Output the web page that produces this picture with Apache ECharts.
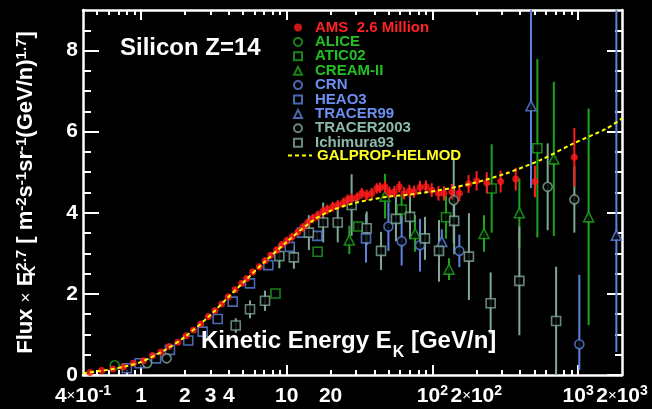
<!DOCTYPE html>
<html>
<head>
<meta charset="utf-8">
<script src="https://cdn.jsdelivr.net/npm/echarts@6/dist/echarts.min.js"></script>
<style>
  html, body { margin: 0; padding: 0; background: #000; }
  #chart { width: 652px; height: 409px; }
</style>
</head>
<body>
<div id="chart"></div>
<script>
// Silicon flux x E^2.7 versus kinetic energy per nucleon (GeV/n)

// ---- AMS ----
const amsE = [0.447, 0.537, 0.64, 0.757, 0.885, 1.04, 1.20, 1.37, 1.56, 1.79, 2.04, 2.29, 2.57, 2.90, 3.22,
  3.58, 3.97, 4.42, 4.91, 5.31, 5.84, 6.49, 7.10, 7.76, 8.53, 9.24, 10.0, 10.9, 11.9, 12.9, 13.9, 15.1,
  16.3, 17.7, 19.0, 20.7, 22.4, 24.5, 26.2, 27.9, 30.5, 32.7, 35.4, 38.3, 41.5, 43.7, 47.3, 50.6, 54.8,
  59.3, 63.9, 69.5, 74.8, 82.2, 90.4, 98.9, 110, 120, 136, 153, 177, 201, 236, 294, 373, 506, 942];
const amsY = [0.06, 0.11, 0.15, 0.20, 0.29, 0.35, 0.48, 0.57, 0.70, 0.81, 0.97, 1.11, 1.26, 1.44, 1.59,
  1.75, 1.93, 2.10, 2.26, 2.38, 2.54, 2.67, 2.82, 2.95, 3.08, 3.21, 3.31, 3.41, 3.52, 3.64, 3.75, 3.86,
  3.93, 4.03, 4.08, 4.15, 4.19, 4.25, 4.33, 4.36, 4.38, 4.48, 4.44, 4.48, 4.60, 4.62, 4.64, 4.50, 4.52,
  4.64, 4.48, 4.54, 4.52, 4.63, 4.64, 4.56, 4.48, 4.48, 4.52, 4.48, 4.71, 4.79, 4.74, 4.77, 4.83, 4.77, 5.37];
const amsErr = [0.02, 0.02, 0.02, 0.02, 0.02, 0.02, 0.03, 0.03, 0.03, 0.03, 0.03, 0.04, 0.04, 0.04, 0.05,
  0.05, 0.05, 0.06, 0.06, 0.06, 0.07, 0.07, 0.08, 0.08, 0.09, 0.09, 0.10, 0.10, 0.10, 0.11, 0.11, 0.11,
  0.12, 0.12, 0.12, 0.12, 0.12, 0.12, 0.12, 0.12, 0.12, 0.13, 0.13, 0.13, 0.13, 0.13, 0.14, 0.14, 0.14,
  0.14, 0.15, 0.15, 0.15, 0.16, 0.16, 0.17, 0.18, 0.18, 0.19, 0.20, 0.22, 0.24, 0.26, 0.27, 0.28, 0.39, 0.72];

// ---- ALICE ----
const aliceE = [0.66];
const aliceY = [0.24];
const aliceErr = [0];

// ---- ATIC02 ----
const atic02E = [8.38, 16.3, 31.0, 61.5, 124, 255, 525];
const atic02Y = [2.01, 3.04, 3.66, 4.08, 3.89, 4.60, 5.59];
const atic02Err = [0, 0, 0.1, 0.33, 0.53, 1.09, 2.2];

// ---- CREAM-II ----
const creamE = [26.9, 47.3, 76.0, 130, 226, 395, 681, 1180];
const creamY = [3.33, 4.41, 3.49, 2.61, 3.49, 4.00, 5.33, 3.90];
const creamErr = [0.35, 0.55, 0.45, 0.27, 0.45, 0.85, 1.9, 2.67];

// ---- CRN ----
const crnE = [49.9, 61.5, 82.2, 153, 1019];
const crnY = [3.66, 3.30, 3.20, 3.06, 0.76];
const crnErrLo = [0.6, 0.6, 0.65, 0.4, 0.64];
const crnErrHi = [0.6, 0.6, 0.65, 0.4, 1.71];

// ---- HEAO3 ----
const heao3E = [0.80, 0.98, 1.27, 1.58, 2.11, 2.65, 3.36, 4.26, 5.60, 7.48, 10.5, 12.7, 16.2, 35.0];
const heao3Y = [0.165, 0.29, 0.41, 0.62, 0.85, 1.07, 1.38, 1.81, 2.26, 2.71, 3.16, 3.51, 3.43, 3.37];
const heao3Err = [0, 0, 0, 0, 0, 0, 0, 0, 0, 0, 0, 0, 0.1, 0.6];

// ---- TRACER99 ----
const tracer99E = [116, 475, 1830];
const tracer99Y = [3.29, 6.64, 3.45];
const tracer99ErrLo = [0.3, 2.03, 2.88];
const tracer99ErrHi = [0.3, 2.6, 5.6];

// ---- TRACER2003 ----
const tracer03E = [1.10, 1.50, 140, 618, 942];
const tracer03Y = [0.29, 0.41, 4.31, 4.64, 4.33];
const tracer03Err = [0, 0, 1.05, 1.07, 0.82];

// ---- Ichimura93 ----
const ichimuraE = [4.47, 5.60, 7.10, 8.90, 11.2, 14.2, 17.8, 22.4, 27.9, 35.4, 44.4, 56.2, 70.2, 88.9,
  111, 141, 178, 251, 395, 706];
const ichimuraY = [1.22, 1.62, 1.83, 2.93, 2.90, 3.51, 3.76, 3.76, 4.19, 3.62, 3.06, 3.85, 3.90, 3.37,
  3.06, 3.80, 2.92, 1.77, 2.32, 1.33];
const ichimuraErr = [0.18, 0.22, 0.25, 0.3, 0.28, 0.43, 0.49, 0.49, 0.76, 0.41, 0.47, 0.55, 0.55, 0.53,
  0.76, 0.82, 1.07, 0.76, 1.34, 1.34];

// ---- GALPROP-HELMOD model ----
const modelE = [0.4, 0.5, 0.6, 0.8, 1, 1.5, 2, 3, 4, 5, 7, 10, 15, 20, 30, 50, 70, 113, 190, 320, 550, 930, 1570, 2000];
const modelY = [0.04, 0.09, 0.13, 0.22, 0.32, 0.64, 0.94, 1.48, 1.93, 2.27, 2.78, 3.28, 3.80, 4.05, 4.25,
  4.40, 4.45, 4.56, 4.73, 4.97, 5.30, 5.71, 6.08, 6.33];

// ---- axis ticks ----
const xTickEnergies = [0.4, 1, 2, 3, 4, 10, 20, 100, 200, 1000, 2000];
const xTickTexts = ['4×10^-1', '1', '2', '3', '4', '10', '20', '10^2', '2×10^2', '10^3', '2×10^3'];
const xMajorTicks = [1, 10, 100, 1000];
const xMinorTicks = [0.5, 0.6, 0.7, 0.8, 0.9, 2, 3, 4, 5, 6, 7, 8, 9, 20, 30, 40, 50, 60, 70, 80, 90,
  200, 300, 400, 500, 600, 700, 800, 900];
const yLabelValues = [0, 2, 4, 6, 8];
const yMinorTicks = [0.5, 1, 1.5, 2.5, 3, 3.5, 4.5, 5, 5.5, 6.5, 7, 7.5, 8.5];

const X_MIN = 0.4, X_MAX = 2000, Y_MIN = 0, Y_MAX = 9;

const RED = '#ff1c1c';
const GREEN = '#1ea41e';
const BLUE = '#5d82de';
const GREY = '#7fa898';
const YELLOW = '#ffff00';
const FONT = 'Liberation Sans, Arial, sans-serif';

const SQUARE_ICON = 'path://M0,0L10,0L10,10L0,10Z';
const TRIANGLE_ICON = 'path://M5,0L10,10L0,10Z';

const lg = v => Math.log10(v);

function richTick(t) {
  const [base, exp] = t.split('^');
  const parts = base.split('×');
  let out = parts.length === 2
    ? '{n|' + parts[0] + '}{t|×}{n|' + parts[1] + '}'
    : '{n|' + base + '}';
  if (exp) out += '{s|' + exp + '}';
  return out;
}

const xTickLogs = xTickEnergies.map(lg);
function xLabelFormatter(v) {
  let best = 0;
  xTickLogs.forEach((l, i) => { if (Math.abs(l - v) < Math.abs(xTickLogs[best] - v)) best = i; });
  return richTick(xTickTexts[best]);
}

const tickRich = {
  n: { fontFamily: FONT, fontSize: 21, fontWeight: 'bold', color: '#fff', lineHeight: 24 },
  t: { fontFamily: FONT, fontSize: 15, color: '#fff', lineHeight: 24 },
  s: { fontFamily: FONT, fontSize: 14, fontWeight: 'bold', color: '#fff', lineHeight: 14, verticalAlign: 'top' }
};

// helper axes carry only tick marks / labels, sitting on the same grid edges
function helperX(position, ticks, len, labels, line) {
  return {
    type: 'value', position, min: lg(X_MIN), max: lg(X_MAX),
    axisLine: { show: !!line, onZero: false, lineStyle: { color: '#fff', width: 2.5 } },
    axisTick: { show: true, inside: true, length: len, customValues: ticks.map(lg),
      lineStyle: { color: '#fff', width: 2 } },
    axisLabel: labels ? {
      show: true, customValues: xTickLogs, formatter: xLabelFormatter, margin: 9, rich: tickRich,
      hideOverlap: false
    } : { show: false },
    splitLine: { show: false }
  };
}
function helperY(position, ticks, len, line) {
  return {
    type: 'value', position, min: Y_MIN, max: Y_MAX,
    axisLine: { show: !!line, onZero: false, lineStyle: { color: '#fff', width: 2.5 } },
    axisTick: { show: true, inside: true, length: len, customValues: ticks,
      lineStyle: { color: '#fff', width: 2 } },
    axisLabel: { show: false },
    splitLine: { show: false }
  };
}

const AMS_NAME = 'AMS  2.6 Million';
const MODEL_NAME = 'GALPROP-HELMOD';

function markerSeries(name, color, symbol, size, E, Y, filled) {
  return {
    type: 'scatter', name, xAxisIndex: 0, yAxisIndex: 0,
    symbol, symbolSize: size, z: filled ? 6 : 4,
    itemStyle: filled ? { color } : { color: '#000', borderColor: color, borderWidth: 1.6 },
    data: E.map((e, i) => [e, Y[i]]),
    silent: true
  };
}
function errorSeries(name, color, width, E, Y, lo, hi) {
  return {
    type: 'custom', name, xAxisIndex: 0, yAxisIndex: 0, clip: true, silent: true,
    z: name === AMS_NAME ? 5 : 3,
    data: E.map((e, i) => [e, Y[i] - lo[i], Y[i] + hi[i]]).filter(d => d[2] - d[1] > 0),
    encode: { x: 0, y: [1, 2] },
    renderItem(params, api) {
      const a = api.coord([api.value(0), api.value(1)]);
      const b = api.coord([api.value(0), api.value(2)]);
      return { type: 'line', shape: { x1: a[0], y1: a[1], x2: b[0], y2: b[1] },
        style: { stroke: color, lineWidth: width } };
    }
  };
}

const experiments = [
  { name: 'ALICE', color: GREEN, symbol: 'circle', E: aliceE, Y: aliceY, lo: aliceErr, hi: aliceErr, text: '#22c022' },
  { name: 'ATIC02', color: GREEN, symbol: 'rect', E: atic02E, Y: atic02Y, lo: atic02Err, hi: atic02Err, text: '#22c022' },
  { name: 'CREAM-II', color: GREEN, symbol: 'triangle', E: creamE, Y: creamY, lo: creamErr, hi: creamErr, text: '#22c022' },
  { name: 'CRN', color: BLUE, symbol: 'circle', E: crnE, Y: crnY, lo: crnErrLo, hi: crnErrHi, text: '#6c8ff0' },
  { name: 'HEAO3', color: BLUE, symbol: 'rect', E: heao3E, Y: heao3Y, lo: heao3Err, hi: heao3Err, text: '#6c8ff0' },
  { name: 'TRACER99', color: BLUE, symbol: 'triangle', E: tracer99E, Y: tracer99Y, lo: tracer99ErrLo, hi: tracer99ErrHi, text: '#6c8ff0' },
  { name: 'TRACER2003', color: GREY, symbol: 'circle', E: tracer03E, Y: tracer03Y, lo: tracer03Err, hi: tracer03Err, text: '#8cbba8' },
  { name: 'Ichimura93', color: GREY, symbol: 'rect', E: ichimuraE, Y: ichimuraY, lo: ichimuraErr, hi: ichimuraErr, text: '#8cbba8' }
];

const series = [];
experiments.forEach(ex => {
  series.push(markerSeries(ex.name, ex.color, ex.symbol, ex.symbol === 'triangle' ? 10 : 9, ex.E, ex.Y, false));
  series.push(errorSeries(ex.name, ex.color, 2, ex.E, ex.Y, ex.lo, ex.hi));
});
series.push({
  type: 'line', name: MODEL_NAME, xAxisIndex: 0, yAxisIndex: 0, showSymbol: false, symbol: 'none',
  smooth: 0.3, z: 7, silent: true,
  lineStyle: { color: YELLOW, width: 2, type: [4, 3] },
  itemStyle: { color: YELLOW },
  data: modelE.map((e, i) => [e, modelY[i]])
});
series.push(markerSeries(AMS_NAME, RED, 'circle', 7, amsE, amsY, true));
series.push(errorSeries(AMS_NAME, RED, 2, amsE, amsY, amsErr, amsErr));

const legendText = { fontFamily: FONT, fontSize: 15, fontWeight: 'bold' };
const iconFor = s => (s === 'rect' ? SQUARE_ICON : s === 'triangle' ? TRIANGLE_ICON : 'circle');

const option = {
  backgroundColor: '#000',
  animation: false,
  grid: { left: 83, right: 30, top: 10, bottom: 34, containLabel: false },
  title: [
    { text: 'Silicon Z=14', left: 120, top: 36, padding: 0,
      textStyle: { fontFamily: FONT, fontSize: 24, fontWeight: 'bold', color: '#fff' } },
    { text: '{a|Kinetic Energy E}{k|K}{a| [GeV/n]}', left: 201, top: 327, padding: 0,
      textStyle: { rich: {
        a: { fontFamily: FONT, fontSize: 24, fontWeight: 'bold', color: '#fff', lineHeight: 28 },
        k: { fontFamily: FONT, fontSize: 16, fontWeight: 'bold', color: '#fff', lineHeight: 16, verticalAlign: 'bottom', padding: [0, 0, -6, 1] }
      } } }
  ],
  legend: [
    {
      orient: 'vertical', left: 293, top: 20, padding: 0, itemWidth: 24, itemHeight: 8, itemGap: -0.6,
      selectedMode: false, symbolKeepAspect: true,
      textStyle: legendText,
      data: [{ name: AMS_NAME, icon: 'circle', textStyle: { color: '#ff2222' } }]
        .concat(experiments.map(ex => ({ name: ex.name, icon: iconFor(ex.symbol), textStyle: { color: ex.text } })))
    },
    {
      orient: 'vertical', left: 287, top: 148, padding: 0, itemWidth: 24, itemHeight: 8,
      selectedMode: false,
      itemStyle: { color: 'rgba(0,0,0,0)', borderColor: 'rgba(0,0,0,0)', borderWidth: 0 },
      textStyle: legendText,
      data: [{ name: MODEL_NAME, textStyle: { color: '#ffff22' } }]
    }
  ],
  xAxis: [
    {
      type: 'log', logBase: 10, position: 'bottom', min: X_MIN, max: X_MAX,
      axisLine: { show: true, onZero: false, lineStyle: { color: '#fff', width: 2.5 } },
      axisTick: { show: false }, axisLabel: { show: false }, splitLine: { show: false }, minorTick: { show: false }
    },
    helperX('bottom', xMajorTicks, 10, true, false),
    helperX('bottom', xMinorTicks, 5, false, false),
    helperX('top', xMajorTicks, 10, false, true),
    helperX('top', xMinorTicks, 5, false, false)
  ],
  yAxis: [
    {
      type: 'value', position: 'left', min: Y_MIN, max: Y_MAX,
      axisLine: { show: true, onZero: false, lineStyle: { color: '#fff', width: 2.5 } },
      axisTick: { show: true, inside: true, length: 16, customValues: yLabelValues,
        lineStyle: { color: '#fff', width: 2 } },
      axisLabel: { show: true, customValues: yLabelValues, margin: 5, color: '#fff',
        fontFamily: FONT, fontSize: 21, fontWeight: 'bold' },
      splitLine: { show: false },
      name: '{a|Flux }{x|×}{a| E}{k|K}{p|2.7}{a| [ m}{p|-2}{a|s}{p|-1}{a|sr}{p|-1}{a|(GeV/n)}{p|1.7}{a|]}',
      nameLocation: 'middle', nameRotate: 90, nameGap: 45,
      nameTextStyle: { rich: {
        a: { fontFamily: FONT, fontSize: 22, fontWeight: 'bold', color: '#fff', lineHeight: 24 },
        x: { fontFamily: FONT, fontSize: 17, color: '#fff', lineHeight: 24 },
        p: { fontFamily: FONT, fontSize: 15, fontWeight: 'bold', color: '#fff', lineHeight: 15, verticalAlign: 'top' },
        k: { fontFamily: FONT, fontSize: 15, fontWeight: 'bold', color: '#fff', lineHeight: 15, verticalAlign: 'bottom', width: 1 }
      } }
    },
    helperY('left', yMinorTicks, 8, false),
    helperY('right', yLabelValues, 15, true),
    helperY('right', yMinorTicks, 7, false)
  ],
  series
};

const chart = echarts.init(document.getElementById('chart'), null, { renderer: 'canvas' });
chart.setOption(option);
</script>
</body>
</html>
